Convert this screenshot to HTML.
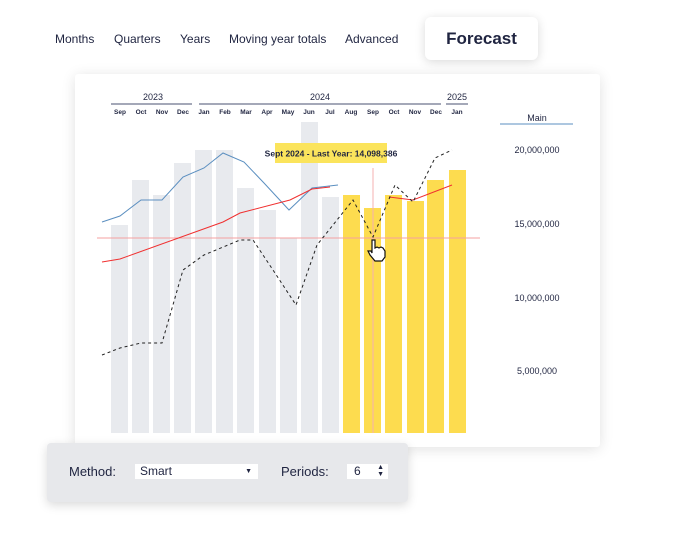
<!DOCTYPE html>
<html><head><meta charset="utf-8"><style>
body{margin:0;width:700px;height:540px;background:#fff;font-family:"Liberation Sans",sans-serif;position:relative;overflow:hidden;color:#1f2440}
.tab{position:absolute;top:32px;font-size:12px;color:#1f2440}
.card{position:absolute;left:75px;top:74px;width:525px;height:373px;background:#fff;box-shadow:0 2px 14px rgba(0,0,0,0.12);border-radius:3px}
.fc{position:absolute;left:425px;top:17px;width:113px;height:43px;background:#fff;border-radius:6px;box-shadow:0 2px 10px rgba(0,0,0,0.15);font-size:17px;font-weight:bold;text-align:center;line-height:43px}
.panel{position:absolute;left:47px;top:443px;width:361px;height:59px;background:#e7e8eb;border-radius:4px;box-shadow:0 3px 10px rgba(0,0,0,0.15)}
</style></head><body>
<div class="tab" style="left:55px">Months</div>
<div class="tab" style="left:114px">Quarters</div>
<div class="tab" style="left:180px">Years</div>
<div class="tab" style="left:229px">Moving year totals</div>
<div class="tab" style="left:345px">Advanced</div>
<div class="fc">Forecast</div>
<div class="card"></div>
<svg width="700" height="540" style="position:absolute;left:0;top:0" font-family="Liberation Sans, sans-serif">
<g fill="#1f2440" font-size="9" text-anchor="middle">
<text x="153" y="100">2023</text><text x="320" y="100">2024</text><text x="457" y="100">2025</text>
</g>
<g stroke="#4a5070" stroke-width="1"><line x1="111" y1="104" x2="192" y2="104"/><line x1="199" y1="104" x2="441" y2="104"/><line x1="446" y1="104" x2="468" y2="104"/></g>
<g fill="#1f2440" font-size="6.5" font-weight="bold" text-anchor="middle">
<text x="120" y="114">Sep</text><text x="141" y="114">Oct</text><text x="162" y="114">Nov</text><text x="183" y="114">Dec</text><text x="204" y="114">Jan</text><text x="225" y="114">Feb</text><text x="246" y="114">Mar</text><text x="267" y="114">Apr</text><text x="288" y="114">May</text><text x="309" y="114">Jun</text><text x="330" y="114">Jul</text><text x="351" y="114">Aug</text><text x="373" y="114">Sep</text><text x="394" y="114">Oct</text><text x="415" y="114">Nov</text><text x="436" y="114">Dec</text><text x="457" y="114">Jan</text>
</g>
<g fill="#e8eaee">
<rect x="111" y="225" width="17" height="208"/><rect x="132" y="180" width="17" height="253"/><rect x="153" y="195" width="17" height="238"/><rect x="174" y="163" width="17" height="270"/><rect x="195" y="150" width="17" height="283"/><rect x="216" y="150" width="17" height="283"/><rect x="237" y="188" width="17" height="245"/><rect x="259" y="210" width="17" height="223"/><rect x="280" y="238" width="17" height="195"/><rect x="301" y="122" width="17" height="311"/><rect x="322" y="197" width="17" height="236"/>
</g>
<g fill="#fddc4f">
<rect x="343" y="195" width="17" height="238"/><rect x="364" y="208" width="17" height="225"/><rect x="385" y="195" width="17" height="238"/><rect x="407" y="201" width="17" height="232"/><rect x="427" y="180" width="17" height="253"/><rect x="449" y="170" width="17" height="263"/>
</g>
<line x1="97" y1="238" x2="480" y2="238" stroke="#f5a0a0" stroke-width="1"/>
<line x1="373" y1="168" x2="373" y2="433" stroke="#f5b0b0" stroke-width="1"/>
<polyline fill="none" stroke="#5b8fc0" stroke-width="1" points="102,222 120,216 141,200 162,200 183,177 204,168 223,153 244,162 264,183 289,210 312,188 338,185"/>
<polyline fill="none" stroke="#f03030" stroke-width="1" points="102,262 120,259 223,222 240,213 290,200 312,189 330,187"/>
<polyline fill="none" stroke="#f03030" stroke-width="1" points="389,197 413,200 452,185"/>
<polyline fill="none" stroke="#222" stroke-width="1" stroke-dasharray="3,3" points="102,355 120,348 141,343 162,343 183,270 204,255 240,240 253,240 273,270 296,305 317,245 353,200 373,237 395,185 413,202 435,158 452,150"/>
<rect x="275" y="143" width="112" height="20" fill="#fbe45c"/>
<text x="331" y="156.5" font-size="8.5" fill="#1f2440" text-anchor="middle" font-weight="bold">Sept 2024 - Last Year: 14,098,386</text>
<path d="M372,240 l3,0 l0,8 l2,-1 l2,1 l2,-1 l2,1 l2,3 l0,6 l-3,4 l-7,0 l-5,-6 l-2,-4 l3,0 l1,2 z" fill="#fff" stroke="#111" stroke-width="1.2"/>
<text x="537" y="121" font-size="9" fill="#1f2440" text-anchor="middle">Main</text>
<line x1="500" y1="124" x2="573" y2="124" stroke="#5b8fc0"/>
<g fill="#1f2440" font-size="9" text-anchor="middle">
<text x="537" y="153">20,000,000</text><text x="537" y="227">15,000,000</text><text x="537" y="301">10,000,000</text><text x="537" y="374">5,000,000</text>
</g>
</svg>
<div class="panel">
<div style="position:absolute;left:22px;top:21px;font-size:13px">Method:</div>
<div style="position:absolute;left:88px;top:21px;width:123px;height:15px;background:#fff;font-size:12px;line-height:15px;padding-left:5px;box-sizing:border-box">Smart<span style="position:absolute;right:6px;font-size:7px">▼</span></div>
<div style="position:absolute;left:234px;top:21px;font-size:13px">Periods:</div>
<div style="position:absolute;left:300px;top:21px;width:41px;height:15px;background:#fff;font-size:12px;line-height:15px;padding-left:7px;box-sizing:border-box">6<span style="position:absolute;right:4px;top:0;font-size:7px;line-height:7px">▲<br>▼</span></div>
</div>
</body></html>
